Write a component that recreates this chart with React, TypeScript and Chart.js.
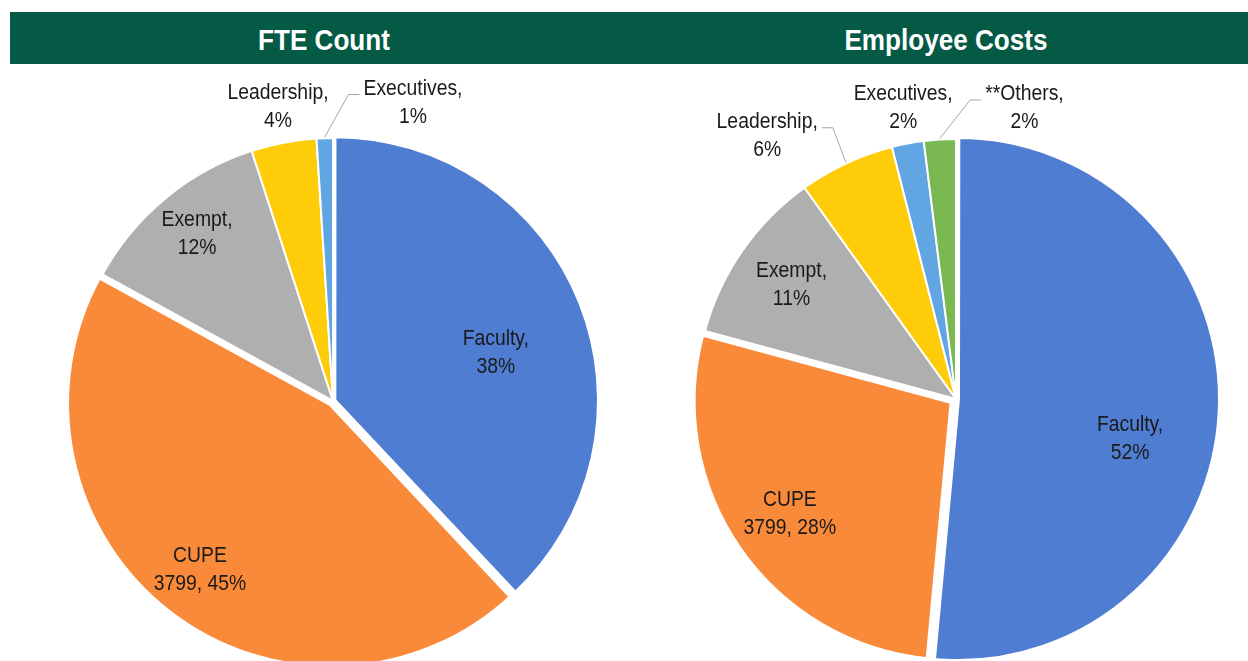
import React, { useEffect, useRef } from 'react';
import { Chart, registerables } from 'chart.js';

Chart.register(...registerables);

const FONT = '"Liberation Sans", Arial, sans-serif';
const NARROW = 0.88;

// ---- Data ----
const FTE_CATEGORIES = ['Faculty', 'CUPE', 'Exempt', 'Leadership', 'Executives'];
const FTE_VALUES = [38, 45, 12, 4, 1];
const COST_CATEGORIES = ['Faculty', 'CUPE', 'Exempt', 'Leadership', 'Executives', '**Others'];
const COST_VALUES = [52, 28, 11, 6, 2, 2];
const CUPE_FTE = 3799;

const TITLES = ['FTE Count', 'Employee Costs'];

// ---- Styles ----
const COLORS = ['#4E7DD1', '#F98A3A', '#AFAFAF', '#FFCC0A', '#62A5E3', '#7AB851'];
const HEADER_GREEN = '#045A44';

// label placement: [radius factor, angle shift in degrees]
const FTE_LABEL_POS = [[0.646, 5], [0.818, 0.4], [0.818, 0.4], [1.137, 0.2], [1.175, 16.8]];
const FTE_LEADER = [false, false, false, false, true];
const COST_LABEL_POS = [[0.687, 10.3], [0.777, 0.1], [0.77, 0], [1.246, -10.7], [1.138, 0.4], [1.15, 16.8]];
const COST_LEADER = [false, false, false, true, false, true];

function labelLines(name: string, v: number): string[] {
  if (name === 'CUPE') return ['CUPE', `${CUPE_FTE}, ${v}%`];
  return [name + ',', `${v}%`];
}

const LABEL_SIZE = 22;
const LINE_H = 28;

function makeLabelPlugin(cats: string[], vals: number[], pos: number[][], leaders: boolean[]) {
  return {
    id: 'sliceLabels',
    afterDraw(chart: any) {
      const ctx = chart.ctx as CanvasRenderingContext2D;
      const meta = chart.getDatasetMeta(0);
      ctx.save();
      ctx.font = `${LABEL_SIZE}px ${FONT}`;
      ctx.textAlign = 'center';
      ctx.textBaseline = 'middle';
      meta.data.forEach((arc: any, i: number) => {
        const mid = (arc.startAngle + arc.endAngle) / 2;
        const r = arc.outerRadius;
        const a = mid + (pos[i][1] * Math.PI) / 180;
        const lx = arc.x + Math.cos(a) * r * pos[i][0];
        const ly = arc.y + Math.sin(a) * r * pos[i][0];
        const lines = labelLines(cats[i], vals[i]);
        ctx.fillStyle = '#1a1a1a';
        lines.forEach((t, k) => {
          ctx.save();
          ctx.translate(lx, ly + (k - (lines.length - 1) / 2) * LINE_H);
          ctx.scale(NARROW, 1);
          ctx.fillText(t, 0, 0);
          ctx.restore();
        });
        if (leaders[i]) {
          const w = ctx.measureText(lines[0]).width * NARROW;
          const px = arc.x + Math.cos(mid) * (r + 1);
          const py = arc.y + Math.sin(mid) * (r + 1);
          const y1 = ly - LINE_H / 2 + 6;
          const right = lx > px;
          const edge = right ? lx - w / 2 - 4 : lx + w / 2 + 4;
          const elbow = right ? edge - 11 : edge + 11;
          ctx.strokeStyle = '#A6A6A6';
          ctx.lineWidth = 1;
          ctx.beginPath();
          ctx.moveTo(px, py);
          ctx.lineTo(elbow, y1);
          ctx.lineTo(edge, y1);
          ctx.stroke();
        }
      });
      ctx.restore();
    },
  };
}

function PieChart(props: {
  cats: string[];
  vals: number[];
  offsets: number[];
  borders: number[];
  radius: number;
  pos: number[][];
  leaders: boolean[];
  left: number;
  top: number;
  width: number;
  height: number;
}) {
  const ref = useRef<HTMLCanvasElement | null>(null);
  useEffect(() => {
    if (!ref.current) return;
    const chart = new Chart(ref.current, {
      type: 'pie',
      data: {
        labels: props.cats,
        datasets: [
          {
            data: props.vals,
            backgroundColor: COLORS.slice(0, props.vals.length),
            borderColor: '#ffffff',
            borderWidth: props.borders,
            offset: props.offsets,
            radius: props.radius,
          } as any,
        ],
      },
      options: {
        responsive: false,
        animation: false,
        devicePixelRatio: 1,
        layout: { padding: 0 },
        plugins: { legend: { display: false }, tooltip: { enabled: false } },
      },
      plugins: [makeLabelPlugin(props.cats, props.vals, props.pos, props.leaders)],
    });
    return () => chart.destroy();
  }, []);
  return (
    <canvas
      ref={ref}
      width={props.width}
      height={props.height}
      style={{ position: 'absolute', left: props.left, top: props.top, width: props.width, height: props.height }}
    />
  );
}

export default function App() {
  const titleStyle: React.CSSProperties = {
    position: 'absolute',
    top: 14,
    height: 52,
    lineHeight: '52px',
    color: '#ffffff',
    fontFamily: FONT,
    fontWeight: 'bold',
    fontSize: 30,
    textAlign: 'center',
    whiteSpace: 'nowrap',
    transform: 'scaleX(0.87)',
  };
  return (
    <div style={{ position: 'fixed', left: 0, top: 0, width: 1248, height: 661, overflow: 'hidden', background: '#ffffff' }}>
      <div style={{ position: 'absolute', left: 10, top: 12, width: 1238, height: 52, background: HEADER_GREEN }} />
      <div style={{ ...titleStyle, left: 124, width: 400 }}>{TITLES[0]}</div>
      <div style={{ ...titleStyle, left: 746, width: 400 }}>{TITLES[1]}</div>
      <PieChart
        cats={FTE_CATEGORIES}
        vals={FTE_VALUES}
        offsets={[8, 12, 0, 0, 0]}
        borders={[3, 6, 2, 2, 2]}
        radius={263}
        pos={FTE_LABEL_POS}
        leaders={FTE_LEADER}
        left={23}
        top={66}
        width={620}
        height={670}
      />
      <PieChart
        cats={COST_CATEGORIES}
        vals={COST_VALUES}
        offsets={[8, 16, 0, 0, 0, 0]}
        borders={[4, 6, 2, 2, 2, 2]}
        radius={260}
        pos={COST_LABEL_POS}
        leaders={COST_LEADER}
        left={666}
        top={66}
        width={580}
        height={666}
      />
    </div>
  );
}
